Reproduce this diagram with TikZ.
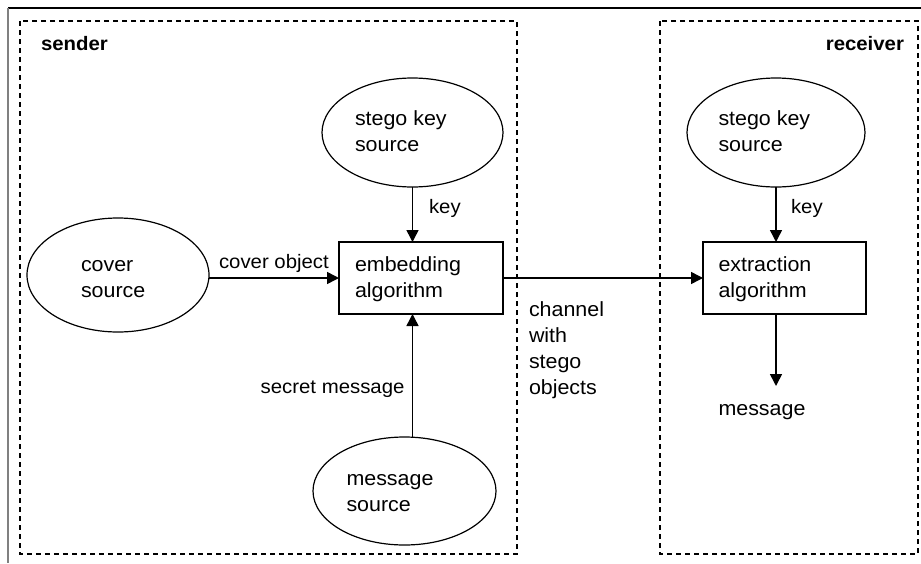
\documentclass[tikz,border=0pt]{standalone}
\usepackage{fontspec}
\setmainfont{Liberation Sans}[FakeStretch=1.045]
\usetikzlibrary{arrows.meta,shapes.geometric}

\tikzset{
  every node/.style={inner sep=0pt, outer sep=0pt},
  srcnode/.style={ellipse, draw, line width=1.2pt},
  algbox/.style={rectangle, draw, line width=1.6pt, minimum width=164pt, minimum height=72pt},
  zone/.style={draw, line width=1.3pt, dash pattern=on 5pt off 4pt},
  % multi-line text: the base anchor sits on the last line
  txt/.style={anchor=base west, align=left, font=\fontsize{20.5}{26}\selectfont},
  lbl/.style={anchor=base west, font=\fontsize{19.5}{24}\selectfont},
  head/.style={font=\fontsize{19.5}{24}\selectfont\bfseries},
  flow/.style={line width=1.5pt, -{Triangle[length=12pt,width=12pt]}},
}

\begin{document}
\begin{tikzpicture}[x=1pt, y=-1pt]
  \path[fill=white, use as bounding box] (0,0) rectangle (921,563);

  % page frame
  \draw[line width=1.3pt] (8,8) -- (921,8);
  \draw[gray, line width=2pt] (8,8) -- (8,563);

  % sender and receiver zones
  \draw[zone] (20,21) rectangle (517,554);
  \draw[zone] (660,21) rectangle (918,554);
  \node[head, anchor=base west] (sendertitle) at (41,50) {sender};
  \node[head, anchor=base east] (receivertitle) at (904,50) {receiver};

  % sources
  \node[srcnode, minimum width=181pt, minimum height=109pt] (keyS) at (412.5,132.5) {};
  \node[srcnode, minimum width=178pt, minimum height=109pt] (keyR) at (776,132.5) {};
  \node[srcnode, minimum width=182pt, minimum height=114pt] (cover) at (118,275) {};
  \node[srcnode, minimum width=183pt, minimum height=108pt] (msg) at (404.5,491) {};

  % algorithms
  \node[algbox] (embed) at (421,278) {};
  \node[algbox, minimum width=163pt] (extract) at (784.5,278) {};

  % texts inside shapes
  \node[txt] (keyStxt) at (355,151.5) {stego key\\source};
  \node[txt] (keyRtxt) at (718.5,151.5) {stego key\\source};
  \node[txt] (covertxt) at (81,297.5) {cover\\source};
  \node[txt] (msgtxt) at (346.5,511.5) {message\\source};
  \node[txt] (embedtxt) at (355,297.5) {embedding\\algorithm};
  \node[txt] (extracttxt) at (718.5,297.5) {extraction\\algorithm};

  % connectors
  \coordinate (outtip) at (776,386);
  \draw[flow] (keyS.south) -- (keyS.south |- embed.north);
  \draw[flow] (keyR.south) -- (keyR.south |- extract.north);
  \draw[flow] (cover.east |- embed.west) -- (embed.west);
  \draw[flow] (keyS.south |- msg.north) -- (keyS.south |- embed.south);
  \draw[flow] (embed.east) -- (extract.west);
  \draw[flow] (extract.south -| keyR.south) -- (outtip);

  % connector labels
  \node[lbl] (keySlbl) at (429,213.5) {key};
  \node[lbl] (keyRlbl) at (791,213.5) {key};
  \node[lbl] (coverlbl) at (219,268) {cover object};
  \node[lbl, anchor=base east] (secretlbl) at (404.5,393) {secret message};
  \node[txt] (channellbl) at (529,394) {channel\\with\\stego\\objects};
  \node[txt] (outmsg) at (718.5,415.5) {message};
\end{tikzpicture}
\end{document}
